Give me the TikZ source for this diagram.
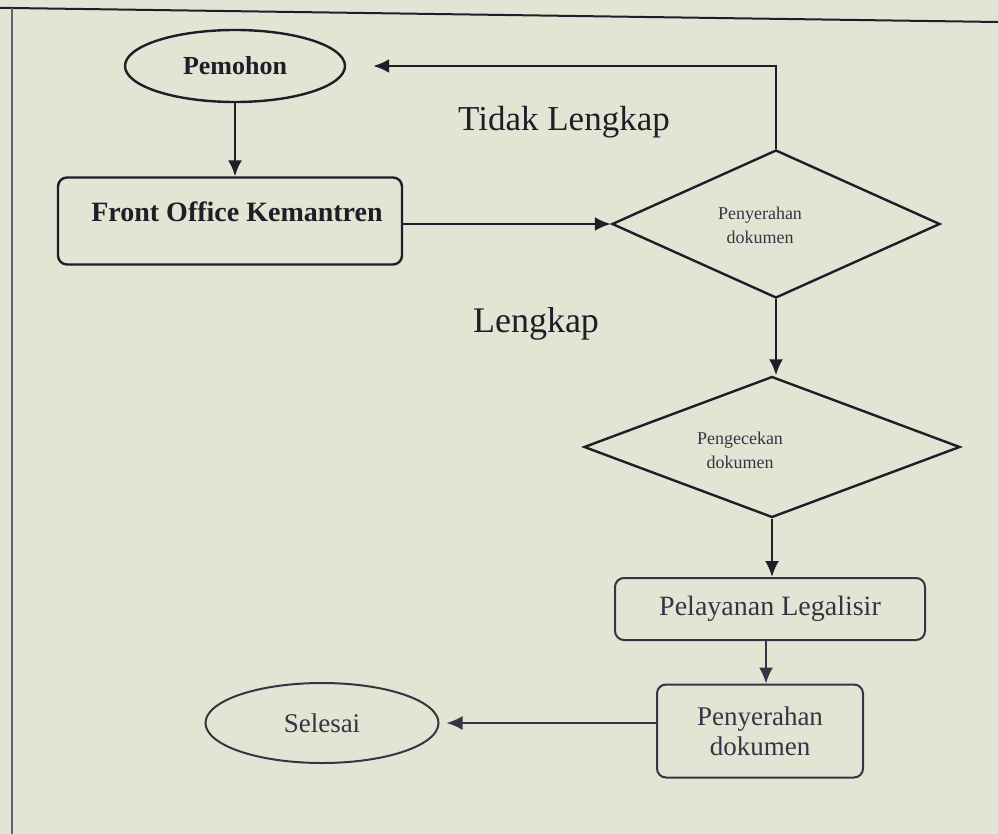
\documentclass[tikz,border=0pt]{standalone}
\usepackage{fontspec}
\setmainfont{Liberation Serif}
\usetikzlibrary{shapes.geometric,arrows.meta}
\definecolor{bgc}{RGB}{226,229,211}
\definecolor{ink}{RGB}{28,30,40}
\definecolor{ink2}{RGB}{50,54,66}
\begin{document}
\begin{tikzpicture}[x=1pt,y=-1pt,
  line/.style={draw=ink,line width=2.4pt},
  arr/.style={line,-{Latex[length=16pt,width=14pt]}},
  oval/.style={ellipse,draw=ink,line width=2.4pt,inner sep=0pt,text=ink},
  rbox/.style={rectangle,rounded corners=9pt,draw=ink,line width=2.4pt,inner sep=0pt,text=ink,align=center},
  dia/.style={diamond,draw=ink,line width=2.4pt,inner sep=0pt},
  dtxt/.style={text=ink2,inner sep=0pt,align=center,font=\fontsize{18}{24}\selectfont},
  lbl/.style={text=ink,inner sep=0pt}]
\fill[bgc] (0,0) rectangle (998,834);
\useasboundingbox (0,0) rectangle (998,834);
\draw[ink,line width=2pt] (0,8) -- (12,8) -- (998,22);
\draw[ink!70,line width=1.2pt] (12,8) -- (12,834);
% nodes
\node[oval,minimum width=220pt,minimum height=72pt,font=\fontsize{26}{28}\selectfont\bfseries] (pem) at (235,66) {Pemohon};
\node[rbox,minimum width=344pt,minimum height=87pt] (fo) at (230,221) {};
\node[lbl,font=\fontsize{28}{30}\selectfont\bfseries] (fot) at (237,212) {Front Office Kemantren};
\node[dia,minimum width=328pt,minimum height=148pt] (d1) at (776,224) {};
\node[dtxt] (d1t) at (760,225) {Penyerahan\\dokumen};
\node[dia,minimum width=376pt,minimum height=141pt] (d2) at (772,447) {};
\node[dtxt] (d2t) at (740,450) {Pengecekan\\dokumen};
\node[rbox,draw=ink2,line width=2pt,minimum width=310pt,minimum height=62pt,font=\fontsize{28}{30}\selectfont,text=ink2] (pl) at (770,609) {Pelayanan Legalisir};
\node[rbox,draw=ink2,line width=2pt,minimum width=206pt,minimum height=93pt,font=\fontsize{27}{30}\selectfont,text=ink2] (pd) at (760,731) {Penyerahan\\dokumen};
\node[oval,draw=ink2,line width=2pt,minimum width=233pt,minimum height=80pt,font=\fontsize{27}{30}\selectfont,text=ink2] (sel) at (322,723) {Selesai};
\node[lbl,font=\fontsize{35}{38}\selectfont] (tl) at (564,122) {Tidak Lengkap};
\node[lbl,font=\fontsize{36}{38}\selectfont] (lk) at (536,324) {Lengkap};
\coordinate (ret) at ([xshift=27pt]pem.east);
\coordinate (selin) at ([xshift=7pt]sel.east);
% connectors
\draw[arr] (pem.south) -- (fo.north -| pem.south);
\draw[arr] (fo.east |- d1.west) -- (d1.west);
\draw[arr] (d1.north) |- (ret);
\draw[arr] (d1.south) -- (d2.north -| d1.south);
\draw[arr] (d2.south) -- (pl.north -| d2.south);
\draw[arr,draw=ink2,line width=2pt] (pl.south -| 766,0) -- (pd.north -| 766,0);
\draw[arr,draw=ink2,line width=2pt] (pd.west |- selin) -- (selin);
\end{tikzpicture}
\end{document}
